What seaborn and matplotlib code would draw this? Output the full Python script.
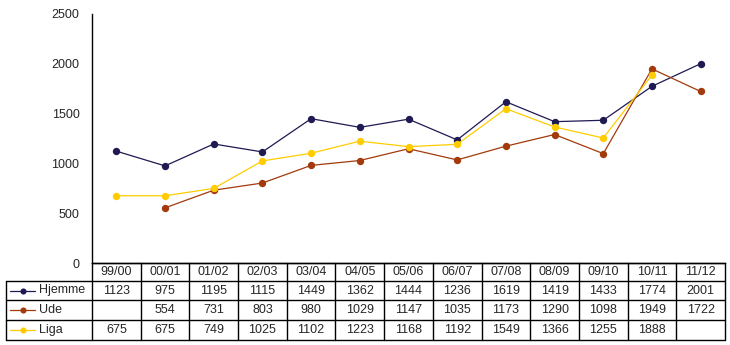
import numpy as np
import pandas as pd
import matplotlib
matplotlib.use("Agg")
import matplotlib.pyplot as plt
from matplotlib.lines import Line2D
from matplotlib.transforms import blended_transform_factory
import seaborn as sns

seasons = ["99/00", "00/01", "01/02", "02/03", "03/04", "04/05", "05/06",
           "06/07", "07/08", "08/09", "09/10", "10/11", "11/12"]
hjemme = [1123, 975, 1195, 1115, 1449, 1362, 1444, 1236, 1619, 1419, 1433, 1774, 2001]
ude = [None, 554, 731, 803, 980, 1029, 1147, 1035, 1173, 1290, 1098, 1949, 1722]
liga = [675, 675, 749, 1025, 1102, 1223, 1168, 1192, 1549, 1366, 1255, 1888, None]

series_names = ["Hjemme", "Ude", "Liga"]
series_values = [hjemme, ude, liga]
colors = {"Hjemme": "#1f1a52", "Ude": "#a33a0c", "Liga": "#ffcc00"}

sns.set_theme(style="white")
plt.rcParams["font.family"] = ["Liberation Sans", "DejaVu Sans"]

W, H = 730, 345
fig = plt.figure(figsize=(W / 100, H / 100), dpi=100)

# plot area in pixel terms
left, right, top, bottom = 92, 725, 14, 263
ax = fig.add_axes([left / W, (H - bottom) / H, (right - left) / W, (bottom - top) / H])

rows = []
for name, vals in zip(series_names, series_values):
    for i, v in enumerate(vals):
        if v is not None:
            rows.append({"pos": i, "value": v, "series": name})
df = pd.DataFrame(rows)

sns.lineplot(data=df, x="pos", y="value", hue="series", hue_order=series_names,
             palette=colors, marker="o", markersize=5.3, markeredgewidth=0,
             linewidth=0.9, legend=False, ax=ax, clip_on=False)

ax.set_xlim(-0.5, len(seasons) - 0.5)
ax.set_ylim(0, 2500)
ax.set_yticks(np.arange(0, 2501, 500))
ax.set_yticklabels([str(t) for t in range(0, 2501, 500)], fontsize=9)
ax.tick_params(axis="y", length=0, pad=9)
ax.set_xticks([])
ax.set_xlabel("")
ax.set_ylabel("")
for s in ["top", "right"]:
    ax.spines[s].set_visible(False)
for s in ["left", "bottom"]:
    ax.spines[s].set_color("black")
    ax.spines[s].set_linewidth(1.0)

# data table below the plot
def fy(py):
    return (H - py) / H

def fx(px):
    return px / W

tr = blended_transform_factory(ax.transData, fig.transFigure)
row_edges = [263, 281, 300, 320, 340]
lw = 1.0
n = len(seasons)

# horizontal lines for the value columns
for yy in row_edges:
    fig.add_artist(Line2D([-0.5, n - 0.5], [fy(yy), fy(yy)], transform=tr,
                          color="black", lw=lw))
# horizontal lines for the legend column
for yy in row_edges[1:]:
    fig.add_artist(Line2D([fx(6), fx(left)], [fy(yy), fy(yy)],
                          transform=fig.transFigure, color="black", lw=lw))
# vertical column borders
for i in range(n + 1):
    fig.add_artist(Line2D([i - 0.5, i - 0.5], [fy(row_edges[0]), fy(row_edges[-1])],
                          transform=tr, color="black", lw=lw))
fig.add_artist(Line2D([fx(6), fx(6)], [fy(row_edges[1]), fy(row_edges[-1])],
                      transform=fig.transFigure, color="black", lw=lw))

# header labels
hdr_y = fy((row_edges[0] + row_edges[1]) / 2)
for i, lab in enumerate(seasons):
    fig.text(i, hdr_y, lab, transform=tr, fontsize=9, ha="center", va="center")

# value rows with legend keys
for r, (name, vals) in enumerate(zip(series_names, series_values)):
    cy = fy((row_edges[r + 1] + row_edges[r + 2]) / 2)
    for i, v in enumerate(vals):
        if v is not None:
            fig.text(i, cy, str(v), transform=tr, fontsize=9, ha="center", va="center")
    fig.add_artist(Line2D([fx(10), fx(35)], [cy, cy], transform=fig.transFigure,
                          color=colors[name], lw=0.9))
    fig.add_artist(Line2D([fx(22.5)], [cy], transform=fig.transFigure,
                          color=colors[name], marker="o", markersize=4.4,
                          markeredgewidth=0, lw=0))
    fig.text(fx(39), cy, name, fontsize=9, ha="left", va="center")

fig.savefig("out.png", dpi=100)
